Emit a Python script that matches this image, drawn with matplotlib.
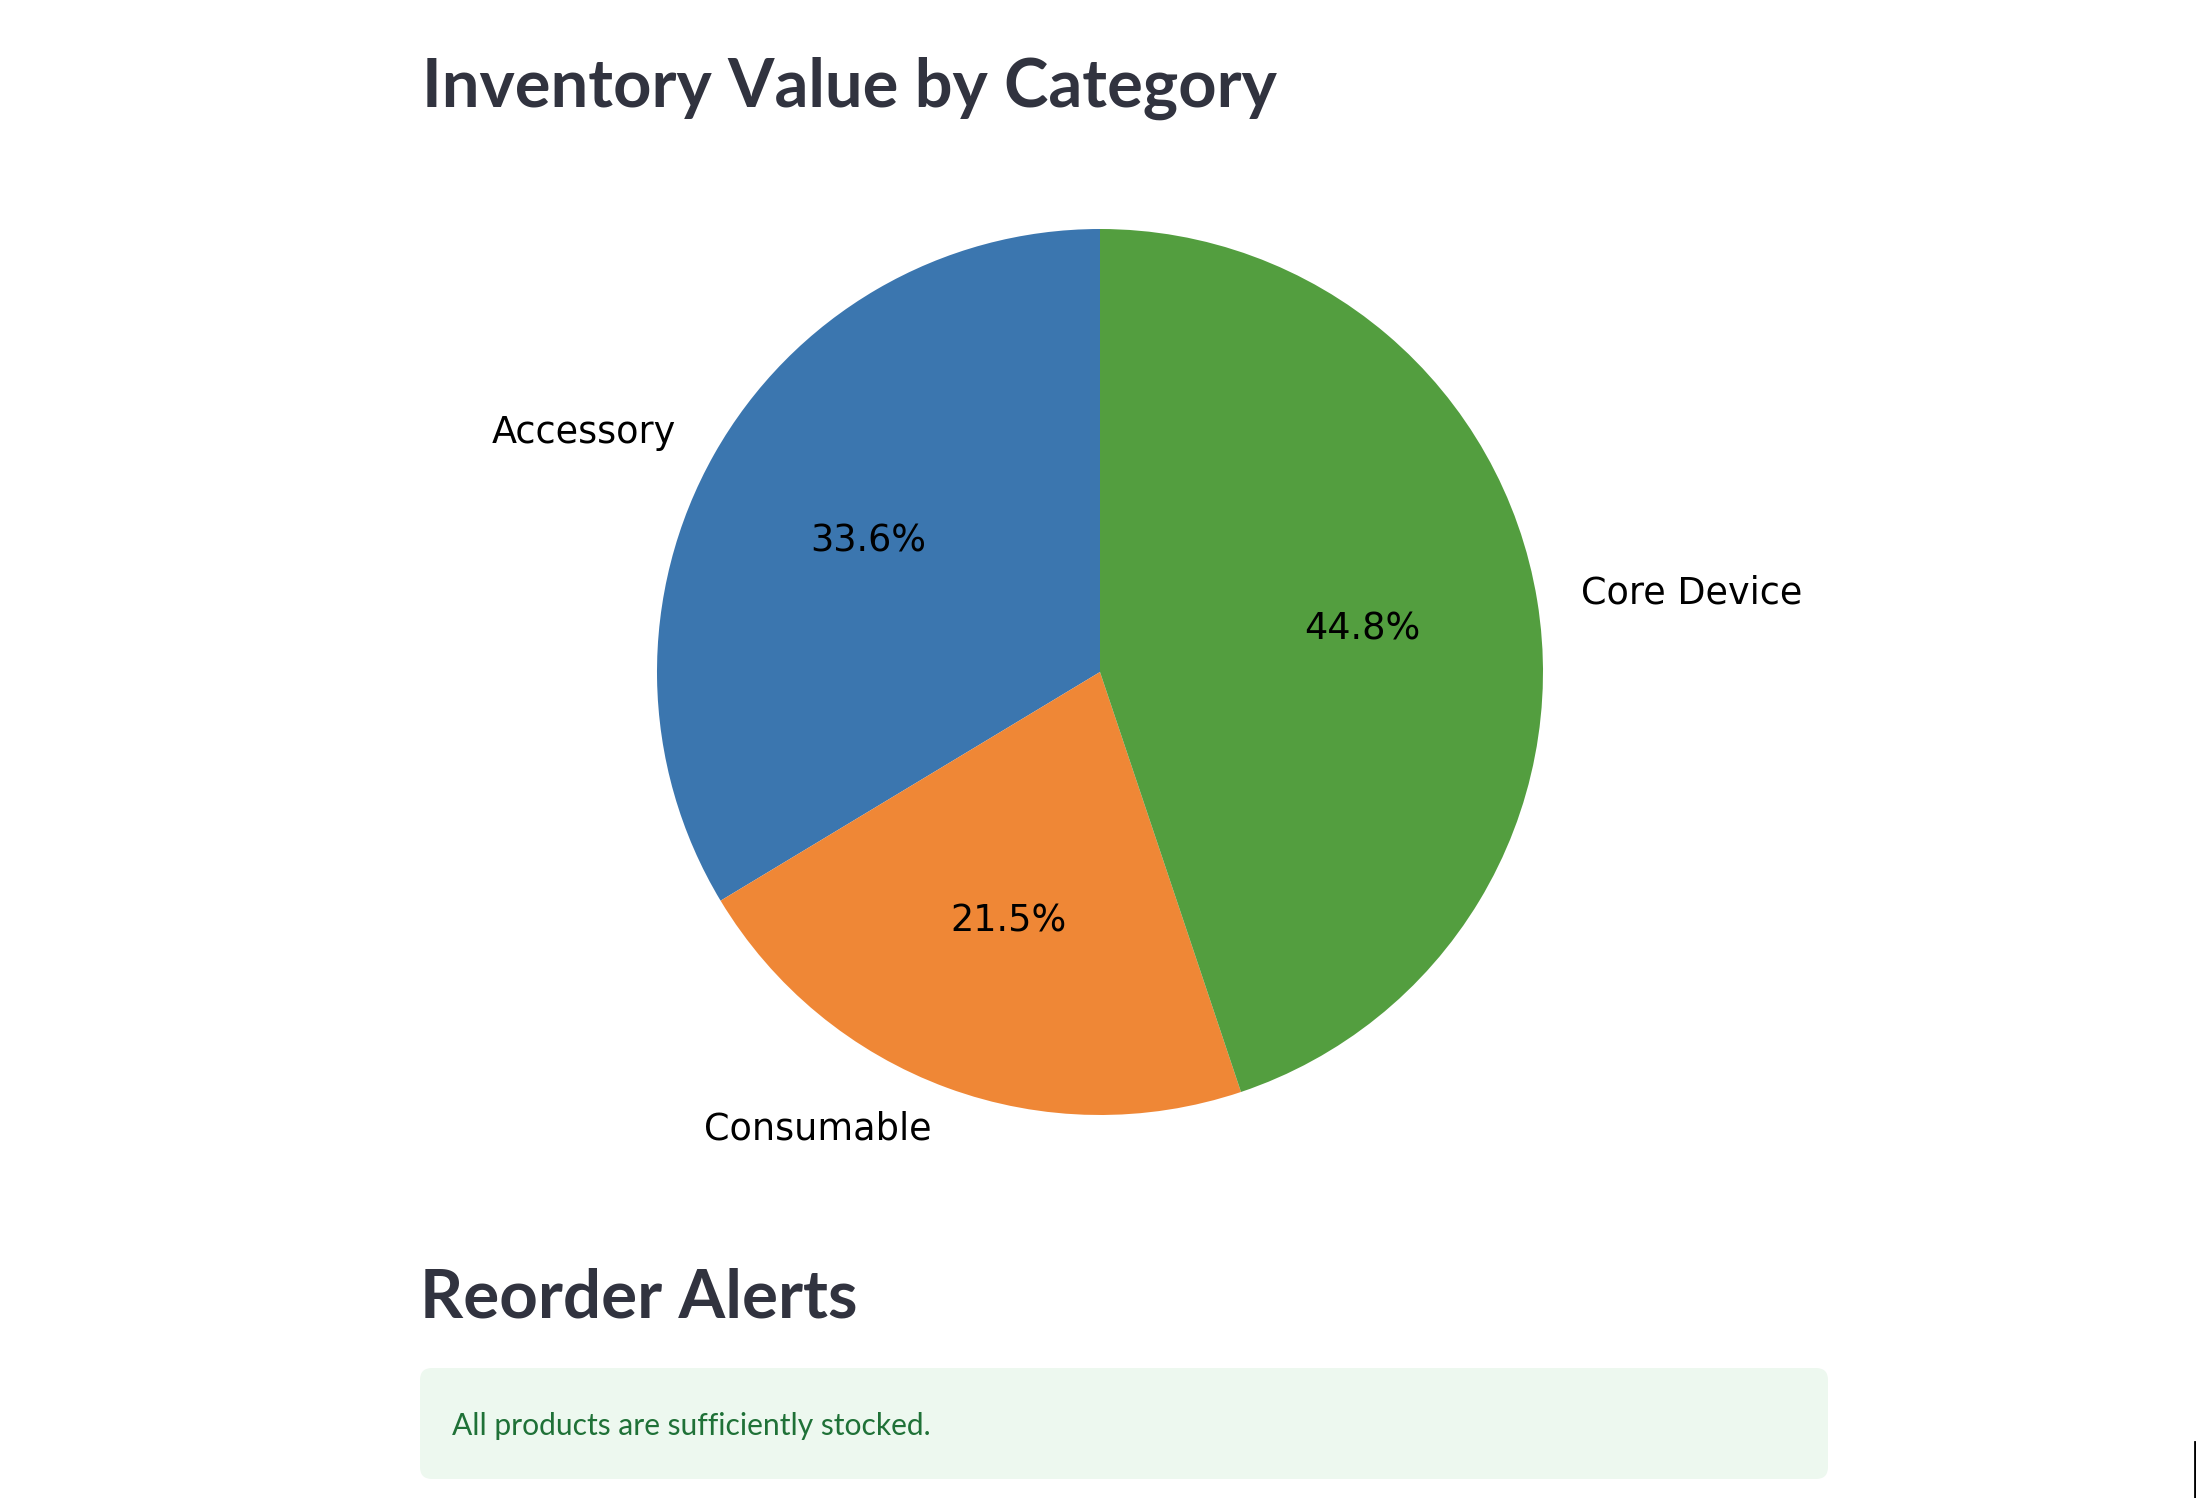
import matplotlib
matplotlib.use("Agg")
import matplotlib.pyplot as plt
from matplotlib.patches import FancyBboxPatch
from matplotlib.lines import Line2D

# data
categories = ["Accessory", "Consumable", "Core Device"]
shares = [33.6, 21.5, 44.8]
slice_colors = ["#3B76AF", "#EF8736", "#539E3F"]

title = "Inventory Value by Category"
section = "Reorder Alerts"
message = "All products are sufficiently stocked."

W, H = 2196, 1498
DPI = 100
HEAD_COLOR = "#31333F"

fig = plt.figure(figsize=(W / DPI, H / DPI), dpi=DPI)
fig.patch.set_facecolor("white")

# page layer in pixel coordinates (y downwards)
page = fig.add_axes([0, 0, 1, 1])
page.set_xlim(0, W)
page.set_ylim(H, 0)
page.axis("off")

page.text(422, 107, title, fontsize=48.2, fontweight="bold", family="Lato",
          color=HEAD_COLOR, ha="left", va="baseline")
page.text(420, 1317, section, fontsize=48.4, fontweight="bold", family="Lato",
          color=HEAD_COLOR, ha="left", va="baseline")

box = FancyBboxPatch((428, 1376), 1392, 95,
                     boxstyle="round,pad=8,rounding_size=12",
                     facecolor="#EDF8EF", edgecolor="none")
page.add_patch(box)
page.text(452, 1435, message, fontsize=21.6, family="Lato",
          color="#1F7137", ha="left", va="baseline")

page.add_line(Line2D([2194.5, 2194.5], [1442, H], color="black", lw=2))

# pie, centre (1100, 672), radius 443 px
cx, cy, r = 1100, 672, 443
ax = fig.add_axes([(cx - r) / W, (H - cy - r) / H, 2 * r / W, 2 * r / H])
wedges, labels, pcts = ax.pie(
    shares,
    labels=categories,
    colors=slice_colors,
    autopct="%1.1f%%",
    startangle=90,
    textprops={"fontsize": 26.4, "color": "black"},
)
ax.set_xlim(-1, 1)
ax.set_ylim(-1, 1)
ax.set_aspect("equal")

fig.savefig("out.png", dpi=DPI, facecolor="white")
